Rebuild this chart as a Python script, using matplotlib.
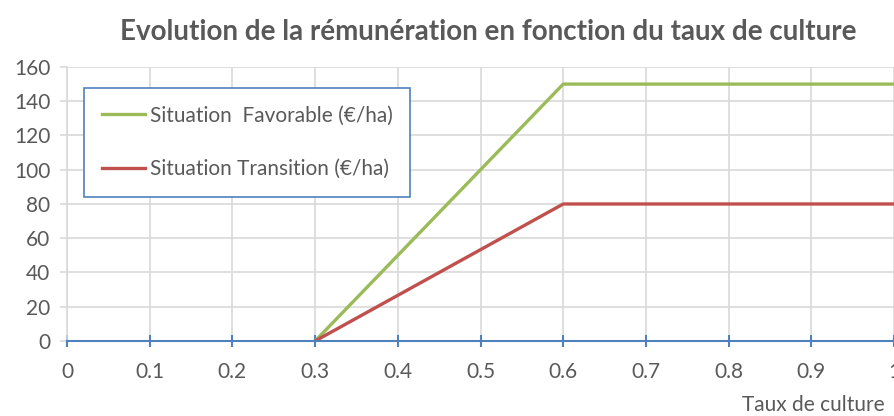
import matplotlib.pyplot as plt

# taux de culture et rémunération (€/ha)
taux = [0.3, 0.6, 1.0]
favorable = [0, 150, 150]
transition = [0, 80, 80]

gris = '#595959'
plt.rcParams['font.family'] = ['Lato', 'DejaVu Sans']

fig = plt.figure(figsize=(8.95, 4.16), dpi=100)
ax = fig.add_axes([0.0749, 0.1803, 0.924, 0.6587])

ax.plot(taux, favorable, color='#9BBB59', lw=2.4, label='Situation  Favorable (€/ha)', zorder=3)
ax.plot(taux, transition, color='#C0504D', lw=2.4, label='Situation Transition (€/ha)', zorder=3)

ax.set_xlim(0, 1)
ax.set_ylim(0, 160)
ax.set_xticks([i / 10 for i in range(11)])
ax.set_xticklabels(['0', '0.1', '0.2', '0.3', '0.4', '0.5', '0.6', '0.7', '0.8', '0.9', '1'])
ax.set_yticks(range(0, 161, 20))
ax.grid(True, color='#D9D9D9', lw=1.2)
ax.set_axisbelow(True)

for s in ['top', 'right']:
    ax.spines[s].set_visible(False)
ax.spines['left'].set_color('#D9D9D9')
ax.spines['left'].set_linewidth(1.2)
ax.spines['bottom'].set_color('#4F81BD')
ax.spines['bottom'].set_linewidth(1.5)
ax.spines['bottom'].set_zorder(4)
ax.tick_params(axis='x', colors='#4F81BD', labelcolor=gris, labelsize=15, direction='inout', length=8, width=1.5, pad=11)
ax.tick_params(axis='y', colors='#D9D9D9', labelcolor=gris, labelsize=15, length=5, width=1.2, pad=7)

fig.text(885 / 895, 1 - 405 / 416, 'Taux de culture', ha='right', va='center', color=gris, fontsize=15)

fig.text(0.546, 0.922, 'Evolution de la rémunération en fonction du taux de culture',
         ha='center', va='center', fontsize=20, fontweight='bold', color=gris)

leg = ax.legend(loc='upper left', bbox_to_anchor=(17 / 827, (341 - 88) / 274), fontsize=15, frameon=True,
                fancybox=False, labelcolor=gris, handlelength=2.1, handletextpad=0.2,
                labelspacing=1.6, borderpad=0.85, borderaxespad=0)
leg.get_frame().set_edgecolor('#4F81BD')
leg.get_frame().set_linewidth(1.2)
leg.get_frame().set_facecolor('white')
leg.get_frame().set_alpha(1)

fig.savefig('out.png', dpi=100)
